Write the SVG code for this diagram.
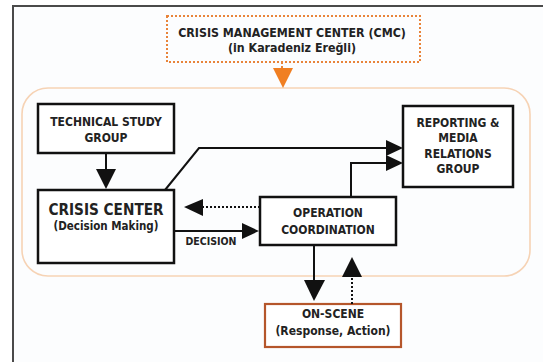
<svg xmlns="http://www.w3.org/2000/svg" width="543" height="362" viewBox="0 0 543 362">
<style>
  text { font-family: "DejaVu Sans Condensed", "DejaVu Sans", sans-serif; font-weight: bold; fill: #222; text-anchor: middle; }
  .box { fill: #ffffff; stroke: #111; stroke-width: 2.5; }
  .line { fill: none; stroke: #111; stroke-width: 2; }
  .dot { fill: none; stroke: #111; stroke-width: 2; stroke-dasharray: 2 2; }
  .head { fill: #111; }
  .t12 { font-size: 12px; }
</style>
<rect x="0" y="0" width="543" height="362" fill="#ffffff"/>
<rect x="13" y="6" width="545" height="370" fill="#fcfdfe" stroke="#4a4a4a" stroke-width="2"/>
<rect id="region" x="22" y="88" width="508" height="188" rx="26" fill="none" stroke="#f6d3b5" stroke-width="1.6"/>

<g id="cmc">
  <rect x="167" y="16" width="253" height="46" fill="none" stroke="#e8843a" stroke-width="2" stroke-dasharray="2 2"/>
  <text x="292" y="37" font-size="12.3">CRISIS MANAGEMENT CENTER (CMC)</text>
  <text x="292" y="52" font-size="12.3">(in Karadeniz Ereğli)</text>
</g>

<g id="technical">
  <rect class="box" x="38" y="104" width="136" height="49"/>
  <text class="t12" x="106" y="126">TECHNICAL STUDY</text>
  <text class="t12" x="106" y="142">GROUP</text>
</g>

<g id="crisis">
  <rect class="box" x="38" y="190" width="136" height="73"/>
  <text x="106" y="215" font-size="15.2">CRISIS CENTER</text>
  <text x="106" y="230" font-size="11.5">(Decision Making)</text>
</g>

<g id="reporting">
  <rect class="box" x="403" y="106" width="110" height="81"/>
  <text class="t12" x="458" y="127">REPORTING &amp;</text>
  <text class="t12" x="458" y="142">MEDIA</text>
  <text class="t12" x="458" y="158">RELATIONS</text>
  <text class="t12" x="458" y="173">GROUP</text>
</g>

<g id="operation">
  <rect class="box" x="260" y="197" width="136" height="48"/>
  <text class="t12" x="328" y="217">OPERATION</text>
  <text class="t12" x="328" y="234">COORDINATION</text>
</g>

<g id="onscene">
  <rect x="265" y="304" width="136" height="43" fill="#ffffff" stroke="#b5562b" stroke-width="2.2"/>
  <text class="t12" x="333" y="318">ON-SCENE</text>
  <text class="t12" x="333" y="335">(Response, Action)</text>
</g>

<g id="connectors">
  <line x1="282" y1="62" x2="282" y2="68" stroke="#e8843a" stroke-width="2" stroke-dasharray="2 2"/>
  <polygon points="273,68 293,68 283,88" fill="#f07f22"/>

  <line class="line" x1="106" y1="153" x2="106" y2="170"/>
  <polygon class="head" points="96,169 116,169 106,189"/>

  <path class="line" d="M165,190 L199,148 L388,148"/>
  <polygon class="head" points="386,140 386,156 403,148"/>

  <path class="line" d="M351,197 V163 H388"/>
  <polygon class="head" points="386,155 386,171 403,163"/>

  <line class="dot" x1="260" y1="207" x2="202" y2="207"/>
  <polygon class="head" points="203,199 203,216 184,207"/>

  <line class="line" x1="174" y1="231" x2="244" y2="231"/>
  <polygon class="head" points="242,223 242,239 259,231"/>
  <text x="211" y="245" font-size="10.5">DECISION</text>

  <line class="line" x1="314" y1="245" x2="314" y2="282"/>
  <polygon class="head" points="304,280 325,280 314,301"/>

  <line class="dot" x1="352" y1="304" x2="352" y2="276"/>
  <polygon class="head" points="342,277 362,277 352,257"/>
</g>
</svg>
